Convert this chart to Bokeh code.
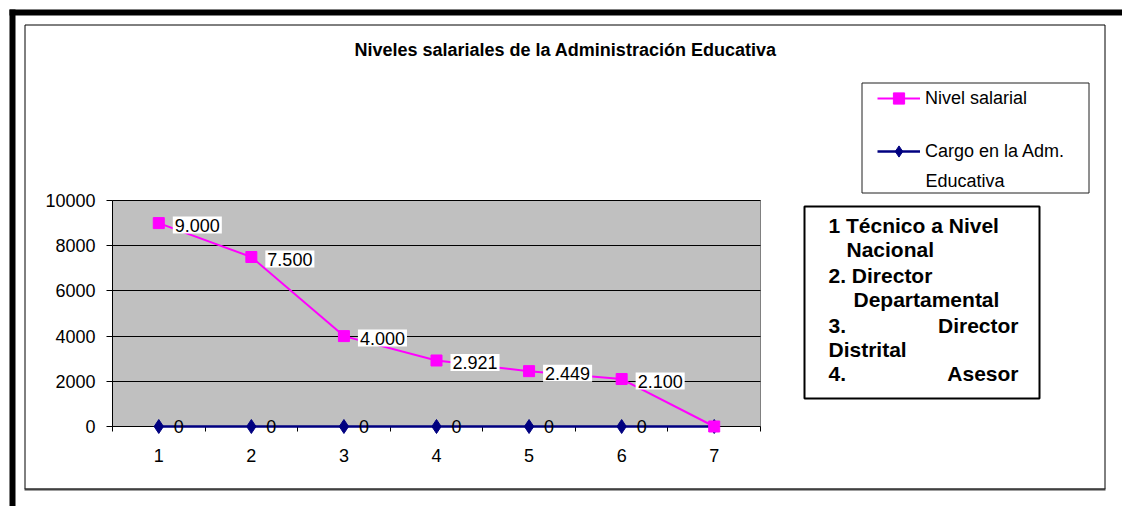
from bokeh.plotting import figure
from bokeh.models import (Range1d, FixedTicker, Label, LabelSet, BoxAnnotation,
                          Legend, LegendItem, ColumnDataSource)
from bokeh.core.properties import value
from bokeh.embed import file_html
from bokeh.resources import INLINE

# ---------------- data ----------------
categories = [1, 2, 3, 4, 5, 6, 7]
nivel_salarial = [9000, 7500, 4000, 2921, 2449, 2100, 0]
cargo_adm = [0, 0, 0, 0, 0, 0, 0]
labeled_points = [1, 2, 3, 4, 5, 6]          # categories that carry a data label
y_ticks = [0, 2000, 4000, 6000, 8000, 10000]
title_text = "Niveles salariales de la Administración Educativa"
series_names = ["Nivel salarial", "Cargo en la Adm.", "Educativa"]
note_lines = ["1 Técnico a Nivel", "Nacional", "2. Director", "Departamental",
              "3.", "Director", "Distrital", "4.", "Asesor"]

FONT = "Liberation Sans"
PINK = "#FF00FF"
NAVY = "#000080"
GREY = "#C0C0C0"


def fmt(v):
    return f"{v:,}".replace(",", ".")


src = ColumnDataSource(dict(x=categories, sal=nivel_salarial, cargo=cargo_adm))
lab_idx = [categories.index(c) for c in labeled_points]
lab_src = ColumnDataSource(dict(
    x=[categories[i] for i in lab_idx],
    sal=[nivel_salarial[i] for i in lab_idx],
    sal_txt=[fmt(nivel_salarial[i]) for i in lab_idx],
    cargo=[cargo_adm[i] for i in lab_idx],
    cargo_txt=[fmt(cargo_adm[i]) for i in lab_idx],
))

# ---------------- figure ----------------
# The frame covers the whole canvas; the plot area (0.5..7.5 x 0..10000)
# sits inside it, the axes are pinned to it with fixed_location.
W, H = 1122, 506
PL, PR, PT, PB = 112, 760, 200, 426      # plot-area edges on the canvas
x0 = categories[0] - 0.5
x1 = categories[-1] + 0.5
PXX = (PR - PL) / (x1 - x0)              # px per category
PXY = (PB - PT) / y_ticks[-1]            # px per unit value
p = figure(width=W, height=H, min_border=0, title=None,
           x_range=Range1d(x0 - PL / PXX, x1 + (W - PR) / PXX),
           y_range=Range1d(-(H - PB) / PXY, y_ticks[-1] + PT / PXY),
           output_backend="svg", toolbar_location=None, tools="")
p.background_fill_color = "white"
p.border_fill_color = "white"
p.outline_line_color = None

# grey plot area
p.add_layout(BoxAnnotation(left=x0, right=x1, bottom=0, top=y_ticks[-1],
                           fill_color=GREY, fill_alpha=1,
                           line_color="#808080", line_alpha=1, line_width=1,
                           level="image"))

# axes
p.yaxis.ticker = FixedTicker(ticks=y_ticks)
p.yaxis.fixed_location = x0
p.yaxis.bounds = (0, y_ticks[-1])
p.yaxis.major_tick_out = 6
p.yaxis.major_tick_in = 0
p.yaxis.minor_tick_line_color = None
p.yaxis.axis_line_color = "black"
p.yaxis.major_tick_line_color = "black"
p.yaxis.major_label_standoff = 11
p.yaxis.major_label_text_font = FONT
p.yaxis.major_label_text_font_size = "18px"
p.yaxis.major_label_text_color = "black"

p.xaxis.ticker = FixedTicker(ticks=categories,
                             minor_ticks=[c - 0.5 for c in categories] + [x1])
p.xaxis.fixed_location = 0
p.xaxis.bounds = (x0, x1)
p.xaxis.major_tick_out = 0
p.xaxis.major_tick_in = 0
p.xaxis.minor_tick_out = 5
p.xaxis.minor_tick_in = 0
p.xaxis.minor_tick_line_color = "black"
p.xaxis.axis_line_color = "black"
p.xaxis.major_label_standoff = 17
p.xaxis.major_label_text_font = FONT
p.xaxis.major_label_text_font_size = "18px"
p.xaxis.major_label_text_color = "black"
p.xaxis.level = "underlay"

p.xgrid.grid_line_color = None
p.ygrid.ticker = FixedTicker(ticks=y_ticks[1:])
p.ygrid.grid_line_color = "black"
p.ygrid.grid_line_width = 1
try:
    p.ygrid.cross_bounds = (x0, x1)
except Exception:
    p.ygrid.grid_line_color = None
    p.segment(x0=[x0] * (len(y_ticks) - 1), x1=[x1] * (len(y_ticks) - 1),
              y0=y_ticks[1:], y1=y_ticks[1:], line_color="black", line_width=1)

# series
cl = p.line("x", "cargo", source=src, line_color=NAVY, line_width=2.5)
cm = p.scatter("x", "cargo", source=src, marker="diamond", size=14,
               fill_color=NAVY, line_color=NAVY)
sl = p.line("x", "sal", source=src, line_color=PINK, line_width=2)
sm = p.scatter("x", "sal", source=src, marker="square", size=11,
               fill_color=PINK, line_color=PINK)

# data labels (white boxed values for the salary series)
try:
    p.text("x", "sal", text="sal_txt", source=lab_src,
           x_offset=14, y_offset=2, text_align="left", text_baseline="middle",
           text_font=value(FONT), text_font_size="18px", text_color="black",
           background_fill_color="white", background_fill_alpha=1,
           padding=2)
except Exception:
    p.add_layout(LabelSet(x="x", y="sal", text="sal_txt", source=lab_src,
                          x_offset=16, y_offset=-2, text_align="left",
                          text_baseline="middle", text_font=value(FONT),
                          text_font_size="18px", text_color="black",
                          background_fill_color="white", background_fill_alpha=1))
p.add_layout(LabelSet(x="x", y="cargo", text="cargo_txt", source=lab_src,
                      x_offset=15, y_offset=0, text_align="left",
                      text_baseline="middle", text_font=value(FONT),
                      text_font_size="18px", text_color="black"))


# ---------------- page decorations (canvas pixel units) ----------------
def cbox(l, t, r, b, **kw):
    return BoxAnnotation(left=l, right=r, top=t, bottom=b,
                         left_units="canvas", right_units="canvas",
                         top_units="canvas", bottom_units="canvas",
                         line_alpha=1, **kw)


# thick scan border (top + left)
p.add_layout(cbox(9, 9, W, 15, fill_color="black", fill_alpha=1, line_color=None))
p.add_layout(cbox(9, 9, 15, H, fill_color="black", fill_alpha=1, line_color=None))
# chart area frame
p.add_layout(cbox(24.5, 24.5, 1104.5, 488.5, fill_alpha=0, line_color="black", line_width=1))
p.add_layout(cbox(24, 488, 1105, 490, fill_color="#404040", fill_alpha=1, line_color=None))
# legend frame
p.add_layout(cbox(861.5, 82.5, 1088.5, 192.5, fill_color="white", fill_alpha=1,
                  line_color="#202020", line_width=1))
# note frame
p.add_layout(cbox(804, 206, 1039, 398, fill_color="white", fill_alpha=1,
                  line_color="black", line_width=2))


def clabel(x, y, text, size="18px", bold=False, align="left"):
    return Label(x=x, y=y, x_units="canvas", y_units="canvas", text=text,
                 text_font=FONT, text_font_size=size,
                 text_font_style="bold" if bold else "normal",
                 text_align=align, text_baseline="middle", text_color="black")


p.add_layout(clabel(565, 49, title_text, size="18px", bold=True, align="center"))

# legend entries
leg_a = Legend(items=[LegendItem(label=series_names[0], renderers=[sl, sm])],
               location=(877, H - 112))
leg_b = Legend(items=[LegendItem(label=series_names[1], renderers=[cl, cm])],
               location=(877, H - 165))
for lg in (leg_a, leg_b):
    lg.padding = 0
    lg.margin = 0
    lg.spacing = 0
    lg.border_line_color = None
    lg.background_fill_alpha = 0
    lg.glyph_width = 43
    lg.glyph_height = 28
    lg.label_height = 22
    lg.label_standoff = 5
    lg.label_text_font = FONT
    lg.label_text_font_size = "18px"
    lg.label_text_color = "black"
    lg.label_text_baseline = "middle"
    p.add_layout(lg)
p.add_layout(clabel(925, 180, series_names[2]))

# note box text
NB = "21px"
p.add_layout(clabel(828, 225, note_lines[0], NB, True))
p.add_layout(clabel(846, 249, note_lines[1], NB, True))
p.add_layout(clabel(828, 275, note_lines[2], NB, True))
p.add_layout(clabel(853, 299, note_lines[3], NB, True))
p.add_layout(clabel(828, 325, note_lines[4], NB, True))
p.add_layout(clabel(1018, 325, note_lines[5], NB, True, "right"))
p.add_layout(clabel(828, 349, note_lines[6], NB, True))
p.add_layout(clabel(828, 373, note_lines[7], NB, True))
p.add_layout(clabel(1018, 373, note_lines[8], NB, True, "right"))

open("out.html", "w").write(file_html(p, INLINE))
